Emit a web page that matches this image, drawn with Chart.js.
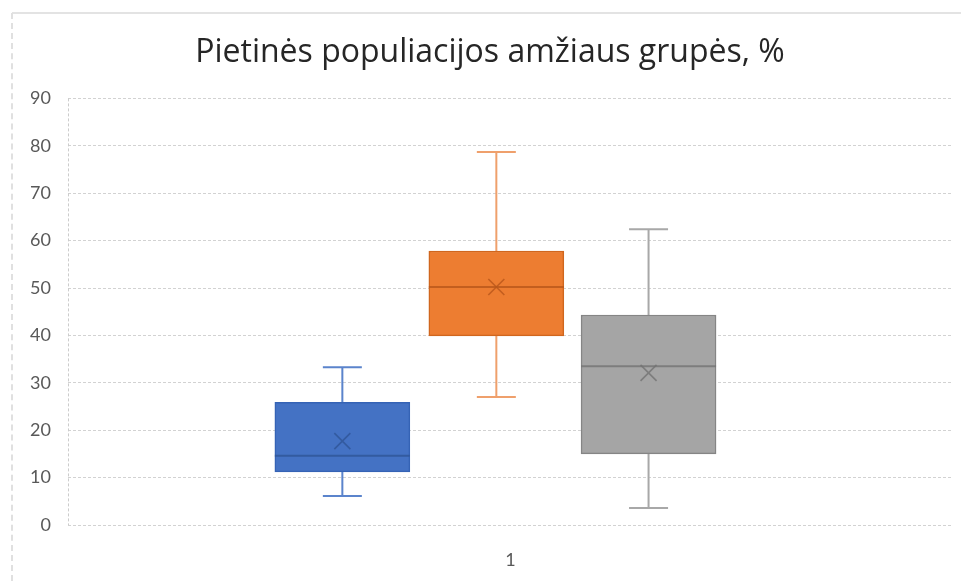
<!DOCTYPE html>
<html>
<head>
<meta charset="utf-8">
<script src="https://cdn.jsdelivr.net/npm/chart.js@4.4.1/dist/chart.umd.min.js"></script>
<style>
  html, body { margin: 0; padding: 0; background: #ffffff; }
  #wrap { position: relative; width: 961px; height: 581px; overflow: hidden; }
  #frameTop { position: absolute; left: 12px; top: 12px; right: 0; height: 0; border-top: 2px solid #e3e3e3; }
  #frameLeft { position: absolute; left: 11px; top: 13px; bottom: 0; width: 0; border-left: 2px dashed #e0e0e0; }
  canvas { position: absolute; left: 0; top: 0; }
</style>
</head>
<body>
<div id="wrap">
  <div id="frameTop"></div>
  <div id="frameLeft"></div>
  <canvas id="chart" width="961" height="581"></canvas>
</div>
<script>
// Age-group distribution of the southern population, %
const categories = ['1'];
const seriesNames = ['0–14', '15–64', '65+'];
const minVals    = [6.1, 27.0, 3.6];
const q1Vals     = [11.2, 39.9, 15.0];
const medianVals = [14.6, 50.2, 33.5];
const q3Vals     = [25.9, 57.8, 44.3];
const maxVals    = [33.3, 78.7, 62.4];
const meanVals   = [17.7, 50.2, 32.1];
const yTicks     = [0, 10, 20, 30, 40, 50, 60, 70, 80, 90];

// styling per series
const fills    = ['#4472C4', '#ED7D31', '#A5A5A5'];
const borders  = ['#3563B5', '#D0661E', '#858585'];
const whiskers = ['#5B84CC', '#EFA06C', '#A8A8A8'];
const marks    = ['#2F5597', '#B8561A', '#737373'];
// horizontal placement of each box inside the single category band
const slotOffsets = [-0.190, -0.016, 0.156];

const datasets = seriesNames.map((name, i) => ({
  label: name,
  data: [{ x: slotOffsets[i], y: [q1Vals[i], q3Vals[i]] }],
  backgroundColor: fills[i],
  borderColor: borders[i],
  borderWidth: 1.5,
  borderSkipped: false,
  barThickness: 135,
  grouped: false
}));

const boxPlotParts = {
  id: 'boxPlotParts',
  beforeDatasetsDraw(chart) {
    const ctx = chart.ctx;
    const y = chart.scales.y;
    ctx.save();
    // dashed value axis line
    ctx.strokeStyle = '#cccccc';
    ctx.lineWidth = 1;
    ctx.setLineDash([3, 2]);
    ctx.beginPath();
    ctx.moveTo(chart.chartArea.left + 0.5, chart.chartArea.top);
    ctx.lineTo(chart.chartArea.left + 0.5, chart.chartArea.bottom);
    ctx.stroke();
    ctx.setLineDash([]);
    // whiskers and caps
    chart.data.datasets.forEach((ds, i) => {
      const bar = chart.getDatasetMeta(i).data[0];
      const cx = bar.x;
      const capHalf = 19.5;
      ctx.strokeStyle = whiskers[i];
      ctx.lineWidth = 2;
      const pMin = y.getPixelForValue(minVals[i]);
      const pMax = y.getPixelForValue(maxVals[i]);
      const pQ1 = y.getPixelForValue(q1Vals[i]);
      const pQ3 = y.getPixelForValue(q3Vals[i]);
      ctx.beginPath();
      ctx.moveTo(cx, pQ3); ctx.lineTo(cx, pMax);
      ctx.moveTo(cx - capHalf, pMax); ctx.lineTo(cx + capHalf, pMax);
      ctx.moveTo(cx, pQ1); ctx.lineTo(cx, pMin);
      ctx.moveTo(cx - capHalf, pMin); ctx.lineTo(cx + capHalf, pMin);
      ctx.stroke();
    });
    ctx.restore();
  },
  afterDatasetsDraw(chart) {
    const ctx = chart.ctx;
    const y = chart.scales.y;
    ctx.save();
    chart.data.datasets.forEach((ds, i) => {
      const bar = chart.getDatasetMeta(i).data[0];
      const cx = bar.x;
      const half = bar.width / 2;
      ctx.strokeStyle = marks[i];
      ctx.globalAlpha = 0.8;
      ctx.lineWidth = 2;
      const pMed = y.getPixelForValue(medianVals[i]);
      ctx.beginPath();
      ctx.moveTo(cx - half, pMed); ctx.lineTo(cx + half, pMed);
      ctx.stroke();
      // mean marker
      const pMean = y.getPixelForValue(meanVals[i]);
      const s = 8;
      ctx.lineWidth = 1.6;
      ctx.beginPath();
      ctx.moveTo(cx - s, pMean - s); ctx.lineTo(cx + s, pMean + s);
      ctx.moveTo(cx - s, pMean + s); ctx.lineTo(cx + s, pMean - s);
      ctx.stroke();
    });
    ctx.restore();
  }
};

new Chart(document.getElementById('chart'), {
  type: 'bar',
  data: { datasets },
  plugins: [boxPlotParts],
  options: {
    responsive: false,
    animation: false,
    devicePixelRatio: 1,
    layout: { padding: { top: 0, left: 27, right: 8, bottom: 0 } },
    plugins: {
      legend: { display: false },
      tooltip: { enabled: false },
      title: {
        display: true,
        text: 'Pietinės populiacijos amžiaus grupės, %',
        color: '#262626',
        font: { family: 'Open Sans', size: 32, weight: 'normal' },
        padding: { top: 34, bottom: 26 }
      }
    },
    scales: {
      x: {
        type: 'linear',
        min: -0.5,
        max: 0.5,
        offset: false,
        grid: { display: false, drawTicks: false },
        border: { display: false },
        afterBuildTicks(scale) { scale.ticks = [{ value: 0 }]; },
        afterFit(scale) { scale.height = 56; },
        ticks: {
          color: '#595959',
          font: { family: 'Lato', size: 18 },
          padding: 24,
          callback: () => categories[0]
        }
      },
      y: {
        min: 0,
        max: 90,
        afterBuildTicks(scale) { scale.ticks = yTicks.map(v => ({ value: v })); },
        afterFit(scale) { scale.width = 41; },
        grid: { color: '#d2d2d2', lineWidth: 1, drawTicks: false },
        border: { display: false, dash: [3, 2] },
        ticks: {
          color: '#595959',
          font: { family: 'Lato', size: 18 },
          padding: 17
        }
      }
    }
  }
});
</script>
</body>
</html>
